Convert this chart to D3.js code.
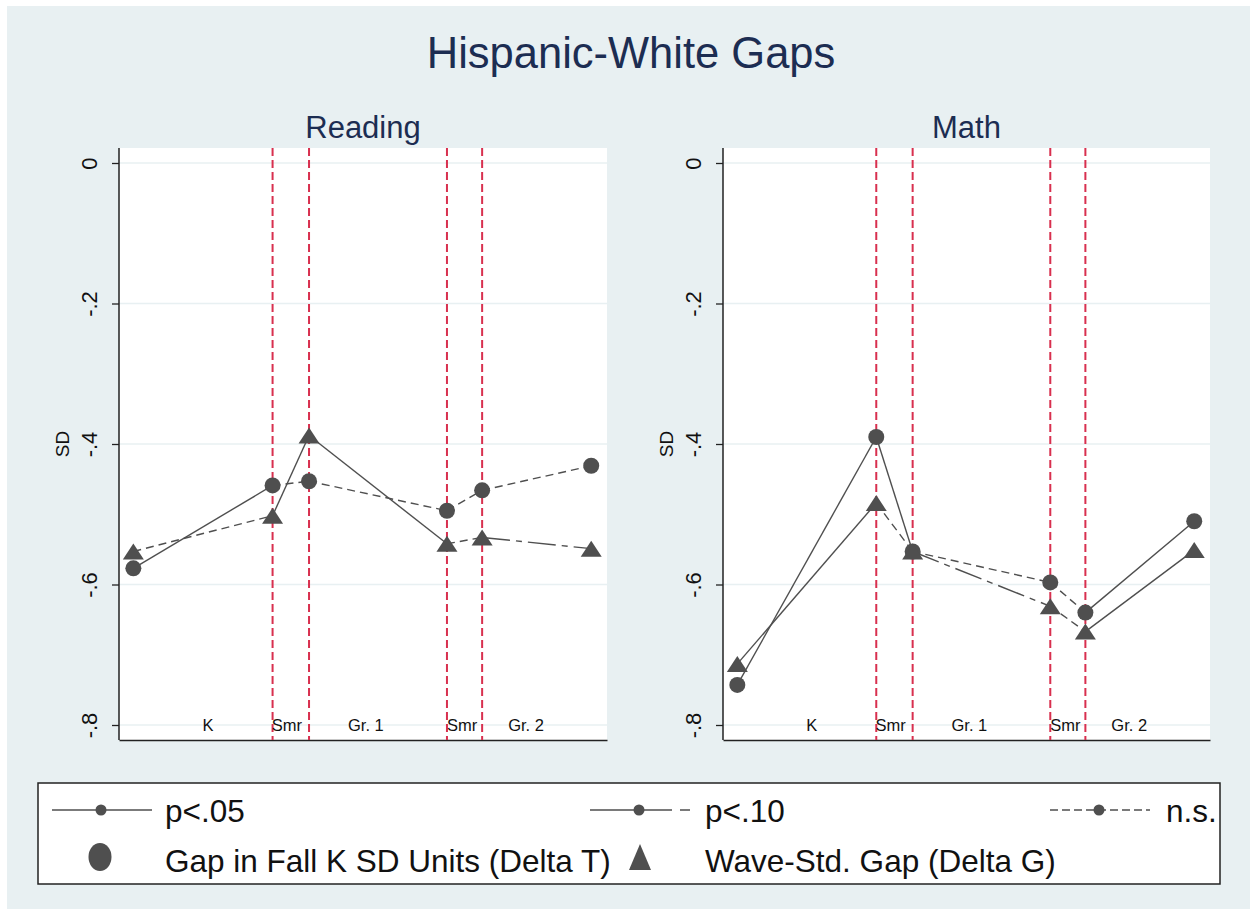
<!DOCTYPE html>
<html><head><meta charset="utf-8">
<script src="https://cdn.jsdelivr.net/npm/d3@7"></script>
<style>html,body{margin:0;padding:0;background:#fff;}svg{display:block;}</style>
</head><body>
<script>
// ---- data ----
const waveTime = [1.0, 10.7, 13.24, 22.85, 25.3, 32.9];        // test waves (x position)
const summerLines = [10.7, 13.24, 22.85, 25.3];                 // red dashed boundaries
const periodLabels = ["K", "Smr", "Gr. 1", "Smr", "Gr. 2"];
const periodLabelX = [6.2, 11.7, 17.2, 23.9, 28.36];
const yTicks = [0, -0.2, -0.4, -0.6, -0.8];
const yTickLabels = ["0", "-.2", "-.4", "-.6", "-.8"];

const readingDeltaT = [-0.577, -0.459, -0.453, -0.495, -0.466, -0.431];
const readingDeltaG = [-0.553, -0.502, -0.388, -0.542, -0.533, -0.549];
const mathDeltaT    = [-0.743, -0.390, -0.553, -0.597, -0.640, -0.510];
const mathDeltaG    = [-0.713, -0.484, -0.553, -0.631, -0.667, -0.551];

const readingDeltaTSig = ["p05", "ns", "ns", "ns", "ns"];
const readingDeltaGSig = ["ns", "p05", "p05", "ns", "p10"];
const mathDeltaTSig    = ["p05", "p05", "ns", "ns", "p05"];
const mathDeltaGSig    = ["p05", "ns", "p10", "ns", "p05"];

const panelTitles = ["Reading", "Math"];
const legendLineLabels = ["p<.05", "p<.10", "n.s."];
const legendMarkerLabels = ["Gap in Fall K SD Units (Delta T)", "Wave-Std. Gap (Delta G)"];
const chartTitle = "Hispanic-White Gaps";

// ---- styles ----
const FONT = "'Liberation Sans', Arial, Helvetica, sans-serif";
const BG = "#e8f0f2";
const NAVY = "#1c2d52";
const INK = "#4f4f4f";
const RED = "#d8304f";
const dashFor = {p05: null, p10: "28,6,6,6", ns: "8,5"};
const legendDash = {p05: null, p10: "82,8,10", ns: "8,4"};

const W = 1250, H = 909;
const svg = d3.select("body").append("svg").attr("width", W).attr("height", H);
svg.append("rect").attr("x", 7).attr("y", 6).attr("width", W - 7).attr("height", H - 6).attr("fill", BG);

svg.append("text").attr("x", 631).attr("y", 68).attr("text-anchor", "middle")
  .attr("font-family", FONT).attr("font-size", 43.5).attr("fill", NAVY).text(chartTitle);

const panels = [
  {left: 119, right: 607, T: readingDeltaT, G: readingDeltaG, TS: readingDeltaTSig, GS: readingDeltaGSig, title: panelTitles[0]},
  {left: 723, right: 1210, T: mathDeltaT, G: mathDeltaG, TS: mathDeltaTSig, GS: mathDeltaGSig, title: panelTitles[1]}
];
const plotTop = 148, plotBottom = 740;

const triPath = "M0,-8L10.5,8L-10.5,8Z";

panels.forEach(p => {
  const x = d3.scaleLinear().domain([0, 34]).range([p.left, p.right]);
  const y = d3.scaleLinear().domain([0, -0.8]).range([163, 725]);
  const g = svg.append("g");
  g.append("rect").attr("x", p.left).attr("y", plotTop).attr("width", p.right - p.left).attr("height", plotBottom - plotTop).attr("fill", "#fff");

  // gridlines
  g.selectAll(".grid").data(yTicks).join("line")
    .attr("x1", p.left).attr("x2", p.right).attr("y1", d => y(d)).attr("y2", d => y(d))
    .attr("stroke", "#e8f0f2").attr("stroke-width", 1.5);

  // y axis
  const yAxis = d3.axisLeft(y).tickValues(yTicks).tickSize(7).tickPadding(0).tickFormat((d, i) => yTickLabels[i]);
  const ag = g.append("g").attr("transform", `translate(${p.left},0)`).call(yAxis);
  ag.select(".domain").attr("d", `M0,${plotTop}V${plotBottom}`).attr("stroke", "#222").attr("stroke-width", 1.5);
  ag.selectAll(".tick line").attr("stroke", "#222").attr("stroke-width", 1.3);
  ag.selectAll(".tick text").attr("font-family", FONT).attr("font-size", 22).attr("fill", "#111")
    .attr("text-anchor", "middle").attr("transform", "translate(-29.5,0) rotate(-90)").attr("x", 0).attr("dy", "0.35em").attr("y", 0);

  // x axis line
  const xAxis = d3.axisBottom(x).tickValues([]).tickSizeOuter(0);
  const xg = g.append("g").attr("transform", `translate(0,${plotBottom})`).call(xAxis);
  xg.select(".domain").attr("stroke", "#222").attr("stroke-width", 1.5);

  g.append("text").attr("transform", `translate(${p.left - 50},${(plotTop + plotBottom) / 2}) rotate(-90)`)
    .attr("text-anchor", "middle").attr("font-family", FONT).attr("font-size", 19).attr("fill", "#111").text("SD");

  // summer boundaries
  g.selectAll(".vl").data(summerLines).join("line")
    .attr("x1", d => x(d)).attr("x2", d => x(d)).attr("y1", plotTop).attr("y2", plotBottom)
    .attr("stroke", RED).attr("stroke-width", 2).attr("stroke-dasharray", "8,4");

  // period labels
  g.selectAll(".pl").data(periodLabels).join("text")
    .attr("x", (d, i) => x(periodLabelX[i])).attr("y", 731).attr("text-anchor", "middle")
    .attr("font-family", FONT).attr("font-size", 16.5).attr("fill", "#111").text(d => d);

  // panel title
  g.append("text").attr("x", (p.left + p.right) / 2).attr("y", 138).attr("text-anchor", "middle")
    .attr("font-family", FONT).attr("font-size", 31).attr("fill", NAVY).text(p.title);

  // series segments
  [[p.T, p.TS], [p.G, p.GS]].forEach(([vals, sig]) => {
    const segs = sig.map((s, i) => ({a: i, b: i + 1, s}));
    g.selectAll(null).data(segs).join("line")
      .attr("x1", d => x(waveTime[d.a])).attr("y1", d => y(vals[d.a]))
      .attr("x2", d => x(waveTime[d.b])).attr("y2", d => y(vals[d.b]))
      .attr("stroke", INK).attr("stroke-width", 1.4)
      .attr("stroke-dasharray", d => dashFor[d.s]);
  });
  g.selectAll(null).data(p.T).join("circle")
    .attr("cx", (d, i) => x(waveTime[i])).attr("cy", d => y(d)).attr("r", 8).attr("fill", INK);
  g.selectAll(null).data(p.G).join("path")
    .attr("d", triPath).attr("transform", (d, i) => `translate(${x(waveTime[i])},${y(d)})`).attr("fill", INK);
});

// ---- legend ----
const lg = svg.append("g");
lg.append("rect").attr("x", 38).attr("y", 783).attr("width", 1182).attr("height", 101)
  .attr("fill", "#fff").attr("stroke", "#222").attr("stroke-width", 1.5);
const keyX = [52, 590, 1050];
const textX = [165, 705, 1166];
legendLineLabels.forEach((lab, i) => {
  const sig = ["p05", "p10", "ns"][i];
  lg.append("line").attr("x1", keyX[i]).attr("x2", keyX[i] + 100).attr("y1", 810).attr("y2", 810)
    .attr("stroke", INK).attr("stroke-width", 1.6).attr("stroke-dasharray", legendDash[sig]);
  lg.append("circle").attr("cx", keyX[i] + 49).attr("cy", 810).attr("r", 5.5).attr("fill", INK);
  lg.append("text").attr("x", textX[i]).attr("y", 822).attr("font-family", FONT).attr("font-size", 31.5).attr("fill", "#111").text(lab);
});
lg.append("ellipse").attr("cx", 100).attr("cy", 857).attr("rx", 11.5).attr("ry", 14).attr("fill", INK);
lg.append("path").attr("d", "M0,-13L11,13L-11,13Z").attr("transform", "translate(640,857)").attr("fill", INK);
legendMarkerLabels.forEach((lab, i) => {
  lg.append("text").attr("x", textX[i]).attr("y", 872).attr("font-family", FONT).attr("font-size", 31.5).attr("fill", "#111").text(lab);
});
</script>
</body></html>
